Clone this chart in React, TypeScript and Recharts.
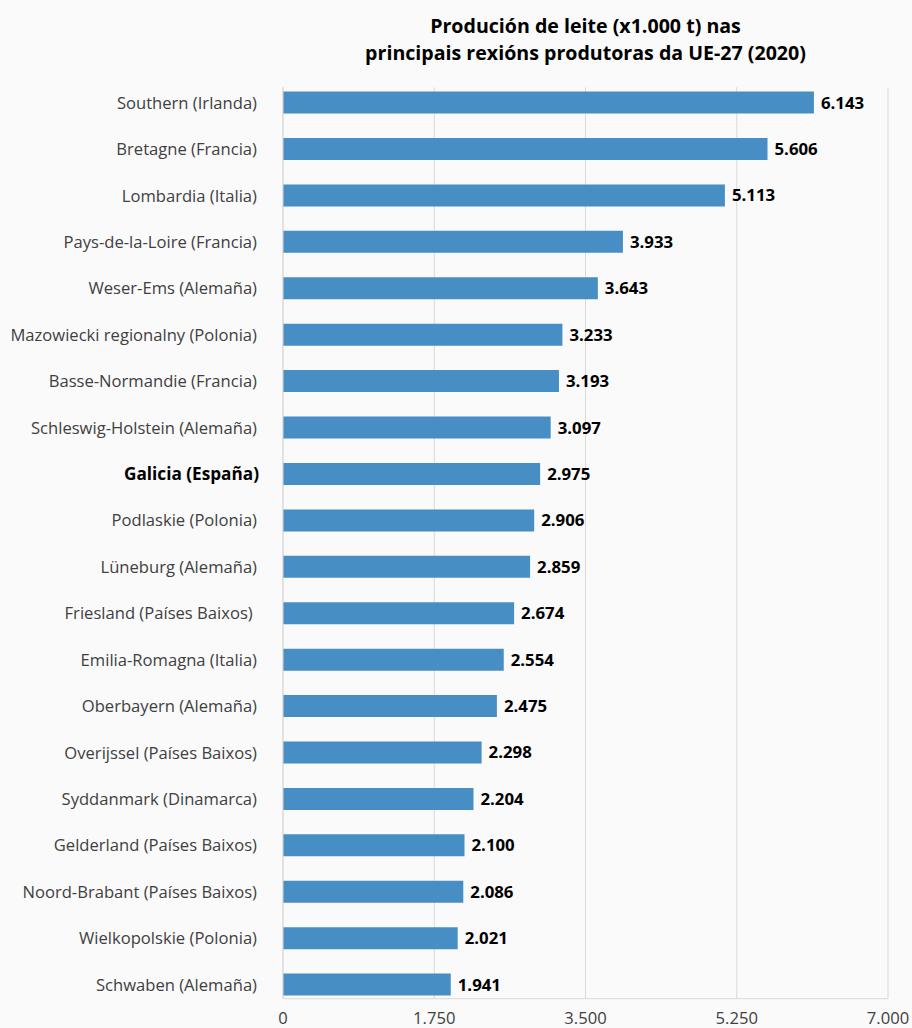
import React from "react";
import {
  Bar,
  BarChart,
  CartesianGrid,
  LabelList,
  XAxis,
  YAxis,
} from "recharts";

const regions = [
  "Southern (Irlanda)",
  "Bretagne (Francia)",
  "Lombardia (Italia)",
  "Pays-de-la-Loire (Francia)",
  "Weser-Ems (Alemaña)",
  "Mazowiecki regionalny (Polonia)",
  "Basse-Normandie (Francia)",
  "Schleswig-Holstein (Alemaña)",
  "Galicia (España)",
  "Podlaskie (Polonia)",
  "Lüneburg (Alemaña)",
  "Friesland (Países Baixos)\u00a0",
  "Emilia-Romagna (Italia)",
  "Oberbayern (Alemaña)",
  "Overijssel (Países Baixos)",
  "Syddanmark (Dinamarca)",
  "Gelderland (Países Baixos)",
  "Noord-Brabant (Países Baixos)",
  "Wielkopolskie (Polonia)",
  "Schwaben (Alemaña)",
];

const production = [
  6143, 5606, 5113, 3933, 3643, 3233, 3193, 3097, 2975, 2906, 2859, 2674,
  2554, 2475, 2298, 2204, 2100, 2086, 2021, 1941,
];

const xTicks = [0, 1750, 3500, 5250, 7000];

const highlighted = "Galicia (España)";

const data = regions.map((name, i) => ({ name, value: production[i] }));

// 6143 -> "6.143"
const fmt = (v: number) =>
  String(Math.round(v)).replace(/\B(?=(\d{3})+(?!\d))/g, ".");

const FONT = "'Open Sans', sans-serif";

const RegionTick = (props: any) => {
  const { x, y, payload } = props;
  const bold = payload.value === highlighted;
  return (
    <text
      x={bold ? x + 2 : x}
      y={y}
      dy="0.355em"
      textAnchor="end"
      fontFamily={FONT}
      fontSize={bold ? 17.2 : 16.6}
      fontWeight={bold ? 700 : 400}
      fill={bold ? "#000" : "#404040"}
    >
      {payload.value}
    </text>
  );
};

export default function App() {
  return (
    <div
      style={{
        position: "relative",
        width: 912,
        height: 1028,
        background: "#fafafa",
        fontFamily: FONT,
      }}
    >
      <style>{"body{margin:0}"}</style>
      <div
        style={{
          position: "absolute",
          top: 12,
          left: 283,
          width: 605,
          textAlign: "center",
          fontWeight: 700,
          fontSize: 19.6,
          lineHeight: "27px",
          color: "#000",
        }}
      >
        Produción de leite (x1.000 t) nas
        <br />
        principais rexións produtoras da UE-27 (2020)
      </div>
      <BarChart
        width={912}
        height={1028}
        data={data}
        layout="vertical"
        margin={{ top: 87.3, right: 24, bottom: 0, left: 0 }}
      >
        <CartesianGrid horizontal={false} stroke="#d9d9d9" />
        <XAxis
          type="number"
          domain={[0, 7000]}
          ticks={xTicks}
          tickFormatter={fmt}
          height={29.3}
          tickSize={0}
          tickMargin={14}
          axisLine={{ stroke: "#d9d9d9" }}
          tick={{ fill: "#404040", fontSize: 16.6, fontFamily: FONT }}
          interval={0}
        />
        <YAxis
          type="category"
          dataKey="name"
          width={283}
          tickSize={0}
          tickMargin={26}
          axisLine={{ stroke: "#d9d9d9" }}
          tick={<RegionTick />}
          interval={0}
          padding={{ top: -7.7, bottom: -9.3 }}
        />
        <Bar dataKey="value" fill="#478ec4" barSize={22} isAnimationActive={false}>
          <LabelList
            dataKey="value"
            position="right"
            offset={7}
            formatter={(v: any) => fmt(Number(v))}
            fill="#000"
            fontFamily={FONT}
            fontSize={16.8}
            fontWeight={700}
          />
        </Bar>
      </BarChart>
    </div>
  );
}
